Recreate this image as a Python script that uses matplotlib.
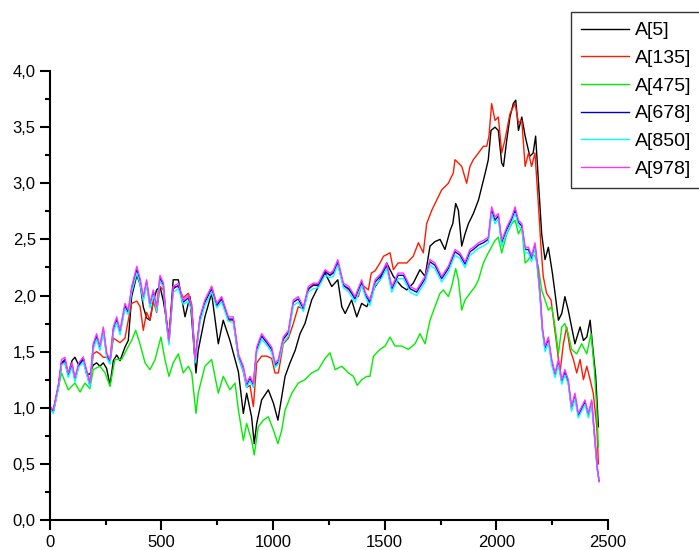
import matplotlib
matplotlib.use("Agg")
import matplotlib.pyplot as plt
from matplotlib.ticker import MultipleLocator, FuncFormatter

plt.rcParams['font.family'] = ['Liberation Sans', 'DejaVu Sans']

# shared x positions for the three nearly identical series
x_group = [
    0, 16, 40, 53, 68, 83, 100, 113, 130, 150,
    165, 180, 195, 210, 225, 240, 255, 270, 285, 300,
    315, 337, 352, 367, 390, 405, 419, 434, 449, 464,
    479, 494, 509, 523, 534, 553, 576, 598, 621, 636,
    651, 673, 695, 725, 748, 770, 800, 822, 845, 867,
    882, 897, 912, 927, 949, 972, 994, 1009, 1024, 1046,
    1069, 1091, 1113, 1136, 1158, 1180, 1203, 1233, 1255, 1270,
    1290, 1315, 1340, 1367, 1397, 1415, 1434, 1457, 1485, 1509,
    1532, 1560, 1584, 1614, 1643, 1681, 1703, 1725, 1755, 1785,
    1815, 1837, 1860, 1882, 1897, 1920, 1942, 1964, 1979, 1994,
    2009, 2024, 2047, 2069, 2084, 2099, 2114, 2129, 2144, 2158,
    2173, 2185, 2196, 2206, 2218, 2233, 2248, 2263, 2278, 2293,
    2307, 2322, 2337, 2352, 2367, 2382, 2397, 2412, 2427, 2442,
    2452, 2460]

a978 = [
    1.02, 0.98, 1.22, 1.43, 1.45, 1.31, 1.40, 1.27, 1.40, 1.45,
    1.34, 1.22, 1.57, 1.66, 1.55, 1.72, 1.49, 1.43, 1.72, 1.81,
    1.69, 1.93, 1.87, 2.08, 2.26, 2.15, 1.99, 2.14, 1.93, 2.05,
    1.90, 2.18, 2.11, 1.78, 1.60, 2.08, 2.11, 1.96, 2.00, 1.90,
    1.43, 1.81, 1.96, 2.08, 1.93, 1.99, 1.81, 1.81, 1.48, 1.37,
    1.22, 1.28, 1.22, 1.54, 1.66, 1.60, 1.54, 1.40, 1.43, 1.63,
    1.69, 1.96, 1.99, 1.90, 2.08, 2.11, 2.11, 2.23, 2.20, 2.22,
    2.32, 2.11, 2.08, 1.99, 2.14, 2.02, 1.96, 2.14, 2.20, 2.29,
    2.08, 2.20, 2.20, 2.08, 2.05, 2.17, 2.32, 2.29, 2.17, 2.26,
    2.41, 2.38, 2.30, 2.41, 2.43, 2.47, 2.49, 2.52, 2.79, 2.70,
    2.73, 2.49, 2.61, 2.70, 2.79, 2.67, 2.64, 2.43, 2.43, 2.35,
    2.47, 2.26, 2.02, 1.72, 1.55, 1.63, 1.43, 1.31, 1.43, 1.25,
    1.34, 1.25, 1.01, 1.13, 0.95, 1.01, 1.07, 0.95, 1.07, 0.71,
    0.47, 0.34]

a850 = [
    1.00, 0.95, 1.18, 1.38, 1.40, 1.27, 1.36, 1.23, 1.36, 1.41,
    1.30, 1.18, 1.52, 1.61, 1.51, 1.67, 1.45, 1.39, 1.67, 1.76,
    1.65, 1.88, 1.83, 2.03, 2.20, 2.10, 1.95, 2.09, 1.89, 2.00,
    1.86, 2.13, 2.07, 1.74, 1.56, 2.03, 2.06, 1.92, 1.95, 1.86,
    1.40, 1.76, 1.91, 2.03, 1.89, 1.94, 1.77, 1.76, 1.44, 1.33,
    1.18, 1.24, 1.18, 1.49, 1.61, 1.56, 1.49, 1.36, 1.39, 1.58,
    1.64, 1.91, 1.94, 1.86, 2.03, 2.06, 2.07, 2.18, 2.16, 2.17,
    2.27, 2.07, 2.03, 1.94, 2.09, 1.98, 1.91, 2.09, 2.15, 2.24,
    2.03, 2.15, 2.15, 2.03, 2.00, 2.12, 2.27, 2.24, 2.12, 2.21,
    2.36, 2.33, 2.25, 2.36, 2.38, 2.42, 2.44, 2.47, 2.73, 2.64,
    2.68, 2.44, 2.56, 2.65, 2.73, 2.62, 2.59, 2.38, 2.38, 2.30,
    2.42, 2.21, 1.97, 1.68, 1.50, 1.58, 1.38, 1.27, 1.38, 1.21,
    1.29, 1.21, 0.97, 1.08, 0.91, 0.97, 1.03, 0.91, 1.03, 0.67,
    0.44, 0.36]

a678 = [
    1.01, 0.96, 1.20, 1.40, 1.43, 1.29, 1.38, 1.25, 1.38, 1.43,
    1.32, 1.20, 1.55, 1.64, 1.53, 1.70, 1.47, 1.41, 1.70, 1.79,
    1.67, 1.91, 1.85, 2.06, 2.23, 2.13, 1.97, 2.12, 1.91, 2.03,
    1.88, 2.16, 2.09, 1.76, 1.58, 2.06, 2.09, 1.94, 1.98, 1.88,
    1.42, 1.79, 1.94, 2.06, 1.91, 1.97, 1.79, 1.79, 1.46, 1.35,
    1.20, 1.26, 1.20, 1.52, 1.64, 1.58, 1.52, 1.38, 1.41, 1.61,
    1.67, 1.94, 1.97, 1.88, 2.06, 2.09, 2.09, 2.21, 2.18, 2.20,
    2.30, 2.09, 2.06, 1.97, 2.12, 2.00, 1.94, 2.12, 2.18, 2.27,
    2.06, 2.18, 2.18, 2.06, 2.03, 2.15, 2.30, 2.27, 2.15, 2.24,
    2.39, 2.36, 2.28, 2.39, 2.41, 2.45, 2.47, 2.50, 2.76, 2.67,
    2.71, 2.47, 2.59, 2.68, 2.76, 2.65, 2.62, 2.41, 2.41, 2.33,
    2.45, 2.24, 2.00, 1.70, 1.53, 1.61, 1.41, 1.29, 1.41, 1.23,
    1.32, 1.23, 0.99, 1.11, 0.93, 0.99, 1.05, 0.93, 1.05, 0.69,
    0.46, 0.35]

x_red = [
    0, 16, 40, 53, 68, 83, 100, 113, 130, 150,
    165, 180, 195, 210, 225, 240, 255, 270, 285, 300,
    315, 337, 352, 367, 390, 405, 419, 434, 449, 464,
    479, 494, 509, 523, 534, 553, 576, 598, 621, 636,
    651, 673, 695, 725, 748, 770, 800, 822, 845, 867,
    882, 897, 912, 927, 949, 972, 994, 1009, 1024, 1046,
    1069, 1091, 1113, 1136, 1158, 1180, 1203, 1233, 1255, 1270,
    1290, 1315, 1340, 1367, 1382, 1397, 1427, 1440, 1457, 1479,
    1495, 1524, 1539, 1560, 1599, 1628, 1651, 1673, 1688, 1711,
    1733, 1755, 1785, 1807, 1815, 1845, 1867, 1882, 1897, 1920,
    1942, 1957, 1967, 1979, 1994, 2009, 2024, 2039, 2061, 2084,
    2099, 2114, 2129, 2144, 2158, 2173, 2188, 2200, 2210, 2225,
    2245, 2260, 2270, 2285, 2300, 2315, 2330, 2345, 2360, 2375,
    2390, 2405, 2420, 2434, 2450, 2457]

a135 = [
    1.00, 0.97, 1.20, 1.40, 1.42, 1.30, 1.38, 1.26, 1.37, 1.42,
    1.32, 1.20, 1.48, 1.50, 1.48, 1.45, 1.45, 1.40, 1.62, 1.60,
    1.58, 1.62, 1.78, 1.93, 1.95, 1.90, 1.69, 1.85, 1.78, 1.95,
    1.85, 2.08, 2.05, 1.75, 1.62, 2.08, 2.08, 1.98, 2.02, 1.92,
    1.42, 1.80, 1.95, 2.08, 1.92, 1.98, 1.78, 1.78, 1.45, 1.32,
    1.18, 1.20, 1.01, 1.40, 1.46, 1.46, 1.44, 1.31, 1.31, 1.57,
    1.62, 1.75, 1.90, 1.88, 2.05, 2.10, 2.10, 2.22, 2.18, 2.22,
    2.30, 2.09, 2.05, 1.99, 1.99, 2.10, 2.05, 2.20, 2.22, 2.29,
    2.35, 2.38, 2.23, 2.29, 2.29, 2.35, 2.47, 2.38, 2.64, 2.76,
    2.85, 2.94, 3.00, 3.09, 3.21, 3.15, 3.00, 3.15, 3.21, 3.27,
    3.33, 3.33, 3.42, 3.71, 3.56, 3.59, 3.27, 3.39, 3.62, 3.71,
    3.54, 3.56, 3.15, 3.27, 3.15, 3.27, 2.82, 2.43, 2.17, 2.02,
    1.96, 1.72, 1.57, 1.31, 1.57, 1.72, 1.52, 1.43, 1.31, 1.43,
    1.25, 1.37, 1.25, 1.13, 0.83, 0.50]

x_black = [
    0, 16, 40, 53, 68, 83, 100, 113, 130, 150,
    165, 180, 195, 210, 225, 240, 255, 270, 285, 300,
    315, 337, 352, 367, 390, 405, 419, 434, 449, 464,
    479, 494, 509, 523, 534, 553, 576, 598, 606, 628,
    655, 665, 695, 725, 755, 777, 807, 845, 867, 882,
    904, 916, 927, 949, 979, 1002, 1022, 1039, 1054, 1076,
    1099, 1121, 1143, 1173, 1203, 1233, 1263, 1290, 1308, 1323,
    1352, 1375, 1397, 1420, 1457, 1479, 1509, 1539, 1576, 1599,
    1628, 1658, 1681, 1703, 1725, 1748, 1770, 1793, 1805, 1818,
    1830, 1845, 1860, 1875, 1897, 1920, 1935, 1950, 1964, 1976,
    1994, 2009, 2024, 2032, 2047, 2061, 2076, 2087, 2099, 2114,
    2129, 2150, 2165, 2176, 2190, 2203, 2218, 2233, 2251, 2263,
    2278, 2293, 2307, 2322, 2337, 2352, 2375, 2390, 2405, 2420,
    2434, 2445, 2457]

a5 = [
    1.00, 0.97, 1.20, 1.40, 1.40, 1.30, 1.42, 1.45, 1.38, 1.45,
    1.30, 1.30, 1.38, 1.40, 1.37, 1.40, 1.35, 1.20, 1.42, 1.47,
    1.42, 1.54, 1.60, 1.99, 2.18, 2.10, 1.90, 1.80, 1.78, 1.95,
    2.05, 2.08, 1.95, 1.78, 1.62, 2.14, 2.14, 1.90, 1.81, 1.99,
    1.31, 1.51, 1.81, 2.02, 1.57, 1.78, 1.60, 1.32, 0.95, 1.13,
    0.92, 0.68, 0.86, 1.07, 1.16, 1.04, 0.89, 1.10, 1.28, 1.40,
    1.51, 1.66, 1.75, 1.96, 2.08, 2.20, 2.08, 2.14, 1.90, 1.84,
    1.96, 1.81, 1.93, 1.90, 2.08, 2.14, 2.29, 2.17, 2.08, 2.05,
    2.11, 2.23, 2.17, 2.44, 2.48, 2.50, 2.41, 2.58, 2.64, 2.82,
    2.76, 2.44, 2.55, 2.64, 2.73, 2.85, 2.97, 3.09, 3.21, 3.47,
    3.50, 3.47, 3.18, 3.15, 3.39, 3.59, 3.71, 3.74, 3.47, 3.59,
    3.42, 3.24, 3.27, 3.42, 2.97, 2.55, 2.32, 2.43, 2.20, 2.02,
    1.78, 1.84, 1.99, 1.87, 1.72, 1.57, 1.72, 1.60, 1.63, 1.78,
    1.49, 1.28, 0.83]

x_green = [
    0, 16, 35, 53, 83, 113, 136, 158, 180, 195,
    225, 248, 270, 292, 322, 345, 367, 385, 404, 427,
    449, 472, 498, 516, 534, 553, 576, 598, 621, 636,
    655, 665, 695, 725, 755, 777, 807, 830, 845, 867,
    882, 904, 916, 934, 957, 979, 1002, 1022, 1039, 1054,
    1084, 1113, 1143, 1173, 1203, 1233, 1255, 1278, 1308, 1338,
    1360, 1377, 1397, 1420, 1434, 1450, 1479, 1502, 1524, 1546,
    1576, 1606, 1636, 1658, 1681, 1703, 1725, 1748, 1763, 1785,
    1800, 1818, 1830, 1845, 1860, 1882, 1905, 1920, 1942, 1964,
    1994, 2009, 2024, 2047, 2069, 2084, 2099, 2114, 2129, 2144,
    2158, 2173, 2188, 2203, 2218, 2233, 2248, 2263, 2278, 2293,
    2307, 2322, 2337, 2360, 2382, 2405, 2424, 2439, 2450, 2457]

a475 = [
    1.00, 0.97, 1.15, 1.31, 1.16, 1.22, 1.14, 1.22, 1.17, 1.34,
    1.37, 1.31, 1.19, 1.43, 1.43, 1.52, 1.60, 1.69, 1.57, 1.40,
    1.34, 1.43, 1.63, 1.43, 1.28, 1.40, 1.48, 1.31, 1.37, 1.31,
    0.95, 1.13, 1.37, 1.43, 1.13, 1.28, 1.16, 1.22, 0.98, 0.71,
    0.86, 0.71, 0.58, 0.83, 0.89, 0.92, 0.80, 0.68, 0.80, 0.98,
    1.13, 1.22, 1.25, 1.31, 1.34, 1.44, 1.49, 1.34, 1.37, 1.31,
    1.28, 1.20, 1.25, 1.28, 1.28, 1.46, 1.52, 1.55, 1.63, 1.55,
    1.55, 1.52, 1.57, 1.66, 1.57, 1.78, 1.90, 2.02, 2.05, 1.99,
    2.08, 2.24, 2.14, 1.87, 1.96, 2.02, 2.08, 2.14, 2.29, 2.38,
    2.49, 2.52, 2.38, 2.55, 2.64, 2.67, 2.55, 2.61, 2.29, 2.32,
    2.38, 2.35, 2.26, 2.05, 1.96, 1.87, 1.90, 1.72, 1.48, 1.72,
    1.75, 1.66, 1.52, 1.48, 1.57, 1.48, 1.66, 1.34, 0.98, 0.65]

fig = plt.figure(figsize=(6.99, 5.50), dpi=100)
ax = fig.add_axes([0.0711, 0.0545, 0.7987, 0.8164])

lw = 1.0
ax.plot(x_black, a5, color='black', lw=lw, label='A[5]')
ax.plot(x_red, a135, color='#ff1a00', lw=lw, label='A[135]')
ax.plot(x_green, a475, color='#00ee00', lw=lw, label='A[475]')
ax.plot(x_group, a678, color='#0000cc', lw=lw, label='A[678]')
ax.plot(x_group, a850, color='#00ffff', lw=lw, label='A[850]')
ax.plot(x_group, a978, color='#ff33ff', lw=lw, label='A[978]')

ax.set_xlim(0, 2500)
ax.set_ylim(0, 4.0)
for side in ['top', 'right']:
    ax.spines[side].set_visible(False)
for side in ['left', 'bottom']:
    ax.spines[side].set_linewidth(1.5)

ax.xaxis.set_major_locator(MultipleLocator(500))
ax.xaxis.set_minor_locator(MultipleLocator(250))
ax.yaxis.set_major_locator(MultipleLocator(0.5))
ax.yaxis.set_minor_locator(MultipleLocator(0.25))
ax.yaxis.set_major_formatter(FuncFormatter(lambda v, p: f"{v:.1f}".replace('.', ',')))
ax.tick_params(which='major', direction='out', length=7, width=1.5, labelsize=12)
ax.tick_params(which='minor', direction='out', length=3.6, width=1.5)
ax.tick_params(axis='x', which='major', pad=4)
ax.tick_params(axis='y', which='major', pad=3)

leg = ax.legend(loc='upper left', bbox_to_anchor=(571 / 699, 1 - 12 / 550),
                bbox_transform=fig.transFigure, borderaxespad=0,
                fontsize=14, handlelength=2.5, handletextpad=0.3,
                labelspacing=0.52, borderpad=0.5, fancybox=False, framealpha=1)
leg.get_frame().set_edgecolor('#333333')
leg.get_frame().set_linewidth(1.0)

fig.savefig('out.png', dpi=100)
